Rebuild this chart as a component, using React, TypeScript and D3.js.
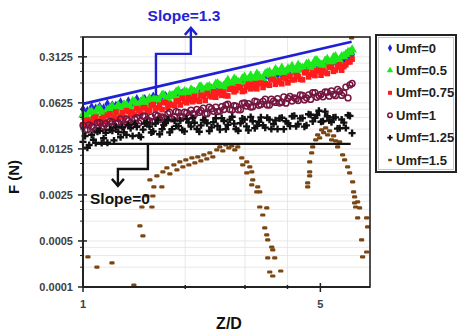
import * as d3 from "d3";

// Z/D sample positions shared by the dense series
const zd = [
  1.0, 1.03, 1.06, 1.09, 1.12, 1.15, 1.18, 1.22, 1.25, 1.29,
  1.32, 1.36, 1.4, 1.44, 1.48, 1.52, 1.57, 1.61, 1.66, 1.71,
  1.75, 1.8, 1.86, 1.91, 1.96, 2.02, 2.08, 2.13, 2.2, 2.26,
  2.32, 2.39, 2.46, 2.53, 2.6, 2.67, 2.75, 2.82, 2.91, 2.99,
  3.07, 3.16, 3.25, 3.34, 3.44, 3.54, 3.64, 3.74, 3.85, 3.96,
  4.07, 4.19, 4.3, 4.43, 4.55, 4.68, 4.82, 4.95, 5.09, 5.24,
  5.39, 5.54, 5.7, 5.86, 6.03, 6.2,
];
// in-between readings
const zdMid = [
  1.014, 1.043, 1.073, 1.103, 1.135, 1.167, 1.2, 1.234, 1.27, 1.306,
  1.343, 1.381, 1.421, 1.461, 1.503, 1.545, 1.589, 1.635, 1.681, 1.729,
  1.778, 1.829, 1.881, 1.935, 1.99, 2.046, 2.105, 2.165, 2.226, 2.29,
  2.355, 2.422, 2.49, 2.561, 2.634, 2.709, 2.786, 2.865, 2.946, 3.03,
  3.117, 3.205, 3.296, 3.39, 3.487, 3.586, 3.688, 3.793, 3.901, 4.012,
  4.126, 4.243, 4.364, 4.488, 4.616, 4.747, 4.882, 5.021, 5.164, 5.311,
  5.462, 5.617, 5.777, 5.942, 6.111,
];

const umf0 = [
  0.0499, 0.0471, 0.0538, 0.0511, 0.0545, 0.0515, 0.06, 0.0575, 0.0566, 0.0634,
  0.0576, 0.066, 0.0644, 0.0714, 0.0649, 0.0714, 0.0696, 0.078, 0.0709, 0.0796,
  0.0793, 0.0775, 0.0842, 0.0804, 0.0873, 0.0798, 0.084, 0.0911, 0.0844, 0.0936,
  0.0918, 0.1018, 0.0949, 0.1043, 0.1132, 0.1069, 0.1185, 0.1164, 0.1153, 0.133,
  0.1308, 0.1297, 0.1439, 0.137, 0.1579, 0.1523, 0.1493, 0.1674, 0.1645, 0.1821,
  0.1719, 0.1886, 0.1891, 0.2092, 0.1914, 0.219, 0.213, 0.2268, 0.2226, 0.2516,
  0.245, 0.2633, 0.2559, 0.2837, 0.3072, 0.3379,
];

const umf05 = [
  0.041, 0.0371, 0.0458, 0.0417, 0.0506, 0.0412, 0.0488, 0.0548, 0.0475, 0.0522,
  0.0582, 0.0496, 0.0661, 0.0582, 0.0638, 0.0577, 0.0726, 0.069, 0.0663, 0.0815,
  0.0693, 0.0815, 0.0787, 0.0952, 0.0763, 0.0902, 0.0985, 0.0878, 0.1081, 0.0967,
  0.108, 0.0935, 0.1208, 0.1145, 0.1089, 0.1379, 0.12, 0.1381, 0.1213, 0.1542,
  0.1422, 0.1396, 0.1715, 0.1442, 0.1716, 0.1839, 0.1537, 0.1855, 0.2119, 0.1846,
  0.2005, 0.1847, 0.2328, 0.2079, 0.2416, 0.2149, 0.2721, 0.249, 0.2292, 0.2867,
  0.2635, 0.3143, 0.2724, 0.3174, 0.3649, 0.3993,
];
const umf05Mid = [
  0.038, 0.0447, 0.0385, 0.0494, 0.0451, 0.0432, 0.0516, 0.0442, 0.0575, 0.0515,
  0.0575, 0.0521, 0.0642, 0.0574, 0.071, 0.065, 0.0599, 0.0728, 0.0695, 0.0814,
  0.0712, 0.0805, 0.0913, 0.0759, 0.0931, 0.0854, 0.0937, 0.0854, 0.1099, 0.1003,
  0.1109, 0.1004, 0.1228, 0.1094, 0.1238, 0.1095, 0.1435, 0.1286, 0.145, 0.1287,
  0.1604, 0.1433, 0.1589, 0.1434, 0.1793, 0.1648, 0.2001, 0.1813, 0.1742, 0.205,
  0.2238, 0.1939, 0.2152, 0.2003, 0.2455, 0.2279, 0.2741, 0.238, 0.2692, 0.2459,
  0.3037, 0.2795, 0.3151, 0.3408, 0.3645,
];

const umf075 = [
  0.0288, 0.0341, 0.0325, 0.038, 0.0315, 0.0375, 0.0405, 0.0352, 0.0454, 0.0391,
  0.0374, 0.0459, 0.0451, 0.0511, 0.0432, 0.0529, 0.048, 0.0588, 0.0527, 0.0493,
  0.0627, 0.06, 0.0565, 0.067, 0.0735, 0.0626, 0.068, 0.0785, 0.0658, 0.079,
  0.0869, 0.0769, 0.076, 0.0927, 0.0904, 0.0797, 0.1035, 0.0963, 0.1062, 0.0952,
  0.1202, 0.1055, 0.1022, 0.1248, 0.1216, 0.1157, 0.1419, 0.1295, 0.1216, 0.1473,
  0.159, 0.1405, 0.157, 0.1401, 0.1831, 0.1689, 0.1622, 0.1936, 0.1924, 0.1741,
  0.2162, 0.1971, 0.2361, 0.2223, 0.262, 0.2881,
];
const umf075Mid = [
  0.033, 0.0299, 0.0366, 0.0331, 0.0358, 0.0327, 0.0426, 0.0381, 0.0365, 0.0442,
  0.0477, 0.0414, 0.0409, 0.0482, 0.0525, 0.0463, 0.0569, 0.0503, 0.0578, 0.0639,
  0.0534, 0.058, 0.0665, 0.058, 0.0655, 0.0749, 0.065, 0.0691, 0.0815, 0.0681,
  0.0804, 0.0918, 0.0888, 0.0813, 0.0803, 0.1001, 0.0919, 0.1094, 0.0928, 0.1091,
  0.1019, 0.1225, 0.1218, 0.107, 0.1187, 0.141, 0.1199, 0.1381, 0.1506, 0.1258,
  0.1399, 0.1621, 0.1426, 0.1787, 0.1549, 0.1783, 0.1924, 0.1644, 0.1825, 0.2167,
  0.1882, 0.2184, 0.196, 0.2365, 0.2616,
];

const umf1 = [
  0.0284, 0.0245, 0.0274, 0.0241, 0.0312, 0.0276, 0.0265, 0.0321, 0.0303, 0.0355,
  0.029, 0.0337, 0.0295, 0.0372, 0.0334, 0.0393, 0.0334, 0.0323, 0.0396, 0.0381,
  0.0358, 0.0448, 0.0385, 0.0446, 0.0375, 0.0442, 0.0486, 0.0421, 0.0447, 0.0521,
  0.0428, 0.0509, 0.0538, 0.0469, 0.0494, 0.0598, 0.0488, 0.0557, 0.0491, 0.0625,
  0.0608, 0.0545, 0.0646, 0.0592, 0.0709, 0.0578, 0.0661, 0.0727, 0.064, 0.0619,
  0.0785, 0.0745, 0.0679, 0.0812, 0.0745, 0.0705, 0.0894, 0.0807, 0.0774, 0.0907,
  0.0951, 0.0804, 0.0937, 0.0883, 0.0742, 0.1231,
];
const umf1Mid = [
  0.024, 0.029, 0.0264, 0.0313, 0.0254, 0.0302, 0.0326, 0.0282, 0.0312, 0.0278,
  0.0356, 0.0311, 0.0357, 0.0308, 0.0392, 0.0348, 0.0381, 0.0411, 0.0348, 0.037,
  0.0428, 0.0357, 0.0458, 0.0392, 0.045, 0.0395, 0.0429, 0.0496, 0.0475, 0.0424,
  0.0537, 0.0466, 0.0459, 0.0549, 0.0576, 0.0494, 0.0567, 0.0491, 0.0614, 0.0558,
  0.0539, 0.0663, 0.0574, 0.0659, 0.0578, 0.0712, 0.0635, 0.0621, 0.077, 0.073,
  0.0666, 0.0716, 0.0825, 0.0693, 0.0829, 0.0893, 0.0759, 0.0839, 0.0914, 0.0789,
  0.084, 0.0998, 0.0811, 0.1084, 0.1171,
];

const umf125 = [
  0.016, 0.013, 0.0205, 0.0154, 0.0236, 0.0181, 0.0155, 0.0237, 0.0268, 0.0188,
  0.0223, 0.0288, 0.0196, 0.027, 0.0189, 0.0303, 0.0273, 0.0231, 0.0339, 0.0249,
  0.0308, 0.0223, 0.0338, 0.0277, 0.0242, 0.0357, 0.0272, 0.0312, 0.0228, 0.0343,
  0.0306, 0.0265, 0.0365, 0.0245, 0.0331, 0.029, 0.0384, 0.0251, 0.0306, 0.0349,
  0.0239, 0.0328, 0.028, 0.0376, 0.0263, 0.0347, 0.0299, 0.025, 0.0371, 0.0329,
  0.0277, 0.0397, 0.0299, 0.0367, 0.0284, 0.0412, 0.0369, 0.0474, 0.0329, 0.0392,
  0.0318, 0.0377, 0.0257, 0.0313, 0.0405, 0.0217,
];
const umf125Mid = [
  0.0196, 0.0143, 0.0172, 0.0229, 0.0154, 0.022, 0.0245, 0.0168, 0.0227, 0.0266,
  0.0204, 0.0257, 0.0301, 0.02, 0.0245, 0.0313, 0.0222, 0.0304, 0.0209, 0.0289,
  0.0346, 0.0249, 0.0279, 0.0336, 0.0231, 0.0314, 0.0366, 0.0251, 0.0285, 0.0338,
  0.0234, 0.0319, 0.0278, 0.0367, 0.0249, 0.0348, 0.0302, 0.0236, 0.0361, 0.0275,
  0.0381, 0.0258, 0.0323, 0.0286, 0.0371, 0.0251, 0.0339, 0.0363, 0.0249, 0.0307,
  0.0392, 0.0276, 0.0364, 0.0272, 0.0419, 0.0327, 0.0409, 0.0323, 0.0459, 0.0337,
  0.0374, 0.0254, 0.0349, 0.026, 0.0397,
];

// Umf=1.5 is sparse, so it keeps its own Z/D values
const umf15Z = [
  1.034, 1.099, 1.217, 1.412, 1.471, 1.501, 1.491, 1.596, 1.542, 1.606,
  1.617, 1.707, 1.574, 1.65, 1.719, 1.766, 1.802, 1.852, 1.89, 1.928,
  1.968, 2.008, 2.05, 2.092, 2.135, 2.178, 2.223, 2.269, 2.315, 2.363,
  2.411, 2.477, 2.528, 2.58, 2.633, 2.687, 2.742, 2.799, 2.856, 2.934,
  2.954, 3.036, 3.098, 3.036, 3.14, 3.161, 3.14, 3.27, 3.248, 3.315,
  3.315, 3.476, 3.383, 3.429, 3.476, 3.499, 3.595, 3.62, 3.499, 3.669,
  3.547, 3.62, 3.821, 4.588, 4.588, 4.65, 4.65, 4.65, 4.713, 4.746,
  4.843, 4.909, 4.976, 5.044, 5.113, 5.182, 5.253, 5.324, 5.396, 5.47,
  5.545, 5.697, 5.621, 5.814, 5.894, 6.015, 6.097, 6.18, 6.222, 6.264,
  6.307, 6.307, 6.35, 6.437, 6.524, 6.437, 6.842, 6.888, 6.613, 6.658,
  6.842,
];
const umf15F = [
  0.000286, 0.000201, 0.000232, 0.000107, 0.000845, 0.000596, 0.00164, 0.00164, 0.00241, 0.00241,
  0.00331, 0.00331, 0.00423, 0.00486, 0.00559, 0.00643, 0.00522, 0.00714, 0.006, 0.00793,
  0.00666, 0.0085, 0.00714, 0.00912, 0.00766, 0.00945, 0.00821, 0.01013, 0.00881, 0.01087,
  0.00945, 0.01207, 0.0134, 0.01166, 0.01438, 0.01295, 0.01389, 0.01207, 0.0134, 0.00912,
  0.00714, 0.00793, 0.00666, 0.0054, 0.00559, 0.00423, 0.00355, 0.00331, 0.00278, 0.00278,
  0.00164, 0.00159, 0.00124, 0.000788, 0.000617, 0.000518, 0.000405, 0.000365, 0.000276, 0.000276,
  0.000169, 0.000147, 0.000175, 0.00331, 0.00381, 0.00486, 0.00559, 0.00793, 0.01087, 0.0134,
  0.0171, 0.0204, 0.0184, 0.0243, 0.0221, 0.0261, 0.0204, 0.0235, 0.0171, 0.0197,
  0.01654, 0.016, 0.0134, 0.01013, 0.0085, 0.00666, 0.0054, 0.607, 0.00394, 0.00278,
  0.00233, 0.00189, 0.00164, 0.00196, 0.00159, 0.00112, 0.00112, 0.000816, 0.000518, 0.000286,
  0.00034,
];

const yTicks = [0.0001, 0.0005, 0.0025, 0.0125, 0.0625, 0.3125];
const yTickLabels = ["0.0001", "0.0005", "0.0025", "0.0125", "0.0625", "0.3125"];
const xTicks = [1, 5];
const xMinor = [2, 3, 4];

const legendLabels = ["Umf=0", "Umf=0.5", "Umf=0.75", "Umf=1", "Umf=1.25", "Umf=1.5"];

// annotation guides, in data units (Z/D, F)
const slope13Line = [[1.0, 0.0603], [6.18, 0.528]];
const slope13Call = [[1.64, 0.0805], [1.64, 0.347], [2.078, 0.347], [2.078, 0.86]];
const slope0Line = [[1.092, 0.0149], [6.14, 0.0149]];
const slope0Call = [[1.553, 0.0149], [1.553, 0.0062], [1.267, 0.0062], [1.267, 0.00343]];

const W = 458;
const H = 334;
const left = 83;
const right = 370;
const top = 37;
const bottom = 287;
const font = "'Liberation Sans', Arial, sans-serif";

const x = d3.scaleLog().domain([1, 7]).range([left, right]);
const y = d3.scaleLog().domain([0.0001, 0.625]).range([bottom, top]);

const diamond = d3.symbol().type(d3.symbolDiamond).size(30)()!;
const triangle = d3.symbol().type(d3.symbolTriangle).size(40)()!;
const cross = d3.symbol().type(d3.symbolCross).size(28)()!;
const diamondL = d3.symbol().type(d3.symbolDiamond).size(16)()!;
const triangleL = d3.symbol().type(d3.symbolTriangle).size(18)()!;
const crossL = d3.symbol().type(d3.symbolCross).size(16)()!;

type Marker = (key: string, cx: number, cy: number, small?: boolean) => JSX.Element;

const markers: Marker[] = [
  (k, cx, cy, sm) => (
    <path key={k} d={sm ? diamondL : diamond} transform={`translate(${cx},${cy})`} fill="#2525d8" />
  ),
  (k, cx, cy, sm) => (
    <path key={k} d={sm ? triangleL : triangle} transform={`translate(${cx},${cy})`} fill="#1ce81c" />
  ),
  (k, cx, cy, sm) => {
    const s = sm ? 4 : 5.6;
    return <rect key={k} x={cx - s / 2} y={cy - s / 2} width={s} height={s} fill="#ff1c1c" />;
  },
  (k, cx, cy, sm) => (
    <circle key={k} cx={cx} cy={cy} r={sm ? 2.2 : 2.9} fill="none" stroke="#74163f" strokeWidth={1.5} />
  ),
  (k, cx, cy, sm) => (
    <path key={k} d={sm ? crossL : cross} transform={`translate(${cx},${cy})`} fill="#111" />
  ),
  (k, cx, cy, sm) => {
    const w = sm ? 4 : 5.2;
    const h = sm ? 2.4 : 3.2;
    return <rect key={k} x={cx - w / 2} y={cy - h / 2} width={w} height={h} rx={1.2} fill="#7b4612" />;
  },
];

const series: [number[], number[]][][] = [
  [[zd, umf0]],
  [[zd, umf05], [zdMid, umf05Mid]],
  [[zd, umf075], [zdMid, umf075Mid]],
  [[zd, umf1], [zdMid, umf1Mid]],
  [[zd, umf125], [zdMid, umf125Mid]],
  [[umf15Z, umf15F]],
];

const yMinor: number[] = [];
yTicks.slice(0, -1).forEach((t) => [2, 3, 4].forEach((m) => yMinor.push(t * m)));
yMinor.push(0.625);

const pathOf = d3
  .line<number[]>()
  .x((d) => x(d[0]))
  .y((d) => y(d[1]));

const App = () => {
  const blueTip = slope13Call[slope13Call.length - 1];
  const blackTip = slope0Call[slope0Call.length - 1];
  const bx = x(blueTip[0]);
  const by = y(blueTip[1]);
  const kx = x(blackTip[0]);
  const ky = y(blackTip[1]);

  return (
    <svg
      width={W}
      height={H}
      viewBox={`0 0 ${W} ${H}`}
      style={{ position: "absolute", left: 0, top: 0, background: "#fff" }}
    >
      {/* grid */}
      {yMinor.concat(yTicks).map((t, i) => (
        <line key={"gy" + i} x1={left} x2={right} y1={y(t)} y2={y(t)} stroke="#e2e2e2" strokeWidth={0.8} />
      ))}
      {xMinor.map((t) => (
        <line key={"gx" + t} x1={x(t)} x2={x(t)} y1={top} y2={bottom} stroke="#e2e2e2" strokeWidth={0.8} />
      ))}

      {/* data */}
      {series.map((parts, s) => (
        <g key={"s" + s}>
          {parts.map(([zs, fs], p) => fs.map((v, i) => markers[s](`${s}-${p}-${i}`, x(zs[i]), y(v))))}
        </g>
      ))}

      {/* plot frame and axes */}
      <rect x={left} y={top} width={right - left} height={bottom - top} fill="none" stroke="#222" strokeWidth={1.6} />
      <line x1={left} x2={left} y1={top} y2={bottom} stroke="#222" strokeWidth={2} />
      <line x1={left} x2={right} y1={bottom} y2={bottom} stroke="#222" strokeWidth={2} />
      {yMinor.map((t, i) => (
        <line key={"ym" + i} x1={left - 3} x2={left} y1={y(t)} y2={y(t)} stroke="#222" strokeWidth={1} />
      ))}
      {yTicks.map((t, i) => (
        <g key={"yt" + i}>
          <line x1={left - 5} x2={left + 4} y1={y(t)} y2={y(t)} stroke="#222" strokeWidth={1.5} />
          <text
            x={left - 10}
            y={y(t)}
            dy="0.35em"
            textAnchor="end"
            fontFamily={font}
            fontWeight="bold"
            fontSize={11}
            fill="#404040"
          >
            {yTickLabels[i]}
          </text>
        </g>
      ))}
      {xMinor.map((t) => (
        <line key={"xm" + t} x1={x(t)} x2={x(t)} y1={bottom - 2} y2={bottom + 2} stroke="#222" strokeWidth={1.5} />
      ))}
      {xTicks.map((t) => (
        <g key={"xt" + t}>
          <line x1={x(t)} x2={x(t)} y1={bottom - 4} y2={bottom + 5} stroke="#222" strokeWidth={1.5} />
          <text
            x={x(t)}
            y={bottom + 21}
            textAnchor="middle"
            fontFamily={font}
            fontWeight="bold"
            fontSize={11}
            fill="#404040"
          >
            {t}
          </text>
        </g>
      ))}

      {/* axis titles */}
      <text
        transform={`translate(19,177) rotate(-90)`}
        textAnchor="middle"
        fontFamily={font}
        fontWeight="bold"
        fontSize={15}
        fill="#111"
      >
        F (N)
      </text>
      <text x={229} y={329} textAnchor="middle" fontFamily={font} fontWeight="bold" fontSize={16} fill="#111">
        Z/D
      </text>

      {/* slope guides */}
      <path d={pathOf(slope13Line)!} fill="none" stroke="#1f1fd6" strokeWidth={2.6} />
      <path d={pathOf(slope13Call)!} fill="none" stroke="#1f1fd6" strokeWidth={2.4} />
      <path
        d={`M${bx - 6},${by + 7}L${bx},${by}L${bx + 6},${by + 7}`}
        fill="none"
        stroke="#1f1fd6"
        strokeWidth={2.4}
      />
      <text x={184} y={21} textAnchor="middle" fontFamily={font} fontWeight="bold" fontSize={15.5} fill="#2424d4">
        Slope=1.3
      </text>

      <path d={pathOf(slope0Line)!} fill="none" stroke="#111" strokeWidth={2.2} />
      <path d={pathOf(slope0Call)!} fill="none" stroke="#111" strokeWidth={2.4} />
      <path
        d={`M${kx - 6},${ky - 7}L${kx},${ky}L${kx + 6},${ky - 7}`}
        fill="none"
        stroke="#111"
        strokeWidth={2.4}
      />
      <text x={90} y={204} fontFamily={font} fontWeight="bold" fontSize={15.5} fill="#111">
        Slope=0
      </text>

      {/* legend */}
      <rect x={376} y={35} width={80} height={137} fill="#fff" stroke="#222" strokeWidth={2} />
      <rect x={378.5} y={37.5} width={75} height={132} fill="none" stroke="#bbb" strokeWidth={0.8} />
      {legendLabels.map((lab, i) => {
        const ly = 48 + i * 22.4;
        return (
          <g key={"lg" + i}>
            {markers[i]("lm" + i, 390, ly, true)}
            <text x={396} y={ly} dy="0.36em" fontFamily={font} fontWeight="bold" fontSize={13} fill="#222">
              {lab}
            </text>
          </g>
        );
      })}
    </svg>
  );
};

export default App;
